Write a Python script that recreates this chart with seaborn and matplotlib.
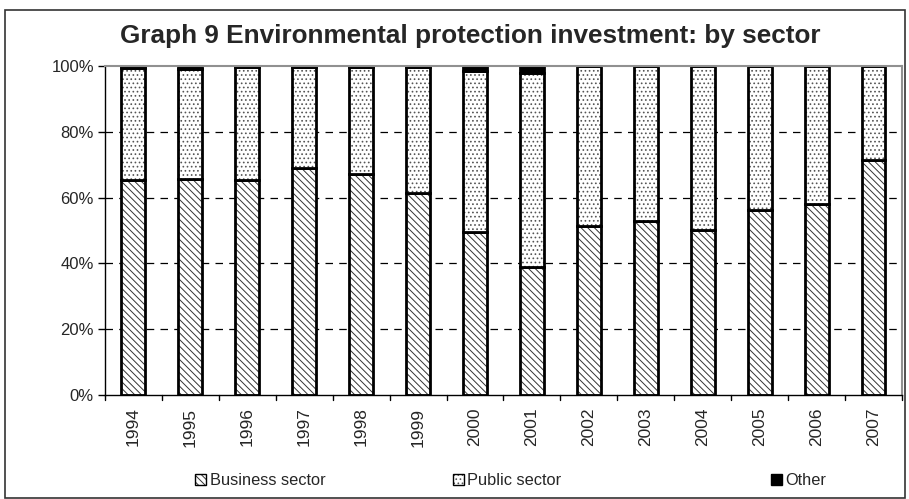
import numpy as np
import pandas as pd
import matplotlib
matplotlib.use("Agg")
import matplotlib.pyplot as plt
from matplotlib.patches import Patch, Rectangle
import seaborn as sns

years = ["1994", "1995", "1996", "1997", "1998", "1999", "2000",
         "2001", "2002", "2003", "2004", "2005", "2006", "2007"]
business = [65.3, 65.8, 65.3, 69.0, 67.3, 61.5, 49.4,
            39.0, 51.5, 52.8, 50.1, 56.1, 58.0, 71.3]
other = [0.6, 0.9, 0.4, 0.4, 0.4, 0.2, 1.6,
         2.1, 0.1, 0.0, 0.0, 0.0, 0.0, 0.0]
public = [100 - b - o for b, o in zip(business, other)]

series_names = ["Business sector", "Public sector", "Other"]
yticks = [0, 20, 40, 60, 80, 100]
ytick_labels = ["0%", "20%", "40%", "60%", "80%", "100%"]

sns.set_theme(style="white")
plt.rcParams["font.family"] = ["Liberation Sans", "DejaVu Sans"]
plt.rcParams["hatch.linewidth"] = 0.7

df = pd.DataFrame({"year": years, "business": business,
                   "public": public, "other": other})
df["base_public"] = df["business"]
df["base_other"] = df["business"] + df["public"]

fig = plt.figure(figsize=(9.09, 4.99), dpi=100)
ax = fig.add_axes([0.1155, 0.2084, 0.8768, 0.6593])

bw = 0.42
layers = [
    ("business", None, "white", "#333333", "\\\\\\\\\\"),
    ("public", "base_public", "white", "#555555", "...."),
    ("other", "base_other", "black", "black", None),
]
for col, base, fc, hc, hatch in layers:
    bottom = df[base].values if base else 0
    # hatched fill, hatch drawn in the edge colour with no visible outline
    sns.barplot(data=df, x="year", y=col, order=years, ax=ax,
                bottom=bottom, width=bw, color=fc, saturation=1,
                edgecolor=hc, linewidth=0, hatch=hatch, errorbar=None)
    # solid outline on top of each segment
    sns.barplot(data=df, x="year", y=col, order=years, ax=ax,
                bottom=bottom, width=bw, fill=False, color="black",
                edgecolor="black", linewidth=2.0, errorbar=None)

ax.set_ylim(0, 100)
ax.set_xlim(-0.5, len(years) - 0.5)
ax.set_yticks(yticks)
ax.set_yticklabels(ytick_labels, fontsize=12)
ax.set_xticks(range(len(years)))
ax.set_xticklabels(years, rotation=90, fontsize=12.5)
ax.set_xlabel("")
ax.set_ylabel("")

# dashed gridlines
for v in yticks[1:-1]:
    ax.axhline(v, color="black", lw=0.9, ls=(0, (6, 5)), zorder=0.5)

for s in ["left", "bottom"]:
    ax.spines[s].set_color("black")
    ax.spines[s].set_linewidth(1.0)
for s in ["top", "right"]:
    ax.spines[s].set_color("#909090")
    ax.spines[s].set_linewidth(1.5)

ax.tick_params(axis="y", which="major", left=True, length=5, width=1,
               color="black", pad=3)
ax.tick_params(axis="x", which="major", bottom=False, pad=3)
# small tick marks at the category boundaries
for b in np.arange(-0.5, len(years), 1.0):
    ax.plot([b, b], [0, -1.6], color="black", lw=1, clip_on=False)

fig.text(0.517, 0.928, "Graph 9 Environmental protection investment: by sector",
         ha="center", va="center", fontsize=18.8, fontweight="bold")

handles = [
    Patch(facecolor="white", edgecolor="#333333", hatch="\\\\\\\\\\", lw=0),
    Patch(facecolor="white", edgecolor="#555555", hatch="...."),
    Patch(facecolor="black", edgecolor="black"),
]
xs = [0.215, 0.498, 0.848]
for h, name, xp in zip(handles, series_names, xs):
    fig.text(xp + 0.016, 0.038, name, ha="left", va="center", fontsize=11.8)
    r = Rectangle((xp, 0.028), 0.012, 0.022, transform=fig.transFigure,
                  facecolor=h.get_facecolor(), edgecolor=h.get_edgecolor(),
                  hatch=h.get_hatch(), lw=0)
    fig.patches.append(r)
    fig.patches.append(Rectangle((xp, 0.028), 0.012, 0.022,
                                 transform=fig.transFigure, fill=False,
                                 edgecolor="black", lw=1.0))

# chart area frame
fig.patches.append(Rectangle((5 / 909, 1 / 499), 900 / 909, 488 / 499,
                             transform=fig.transFigure, fill=False,
                             edgecolor="#333333", lw=1.2))

fig.savefig("out.png", dpi=100)
